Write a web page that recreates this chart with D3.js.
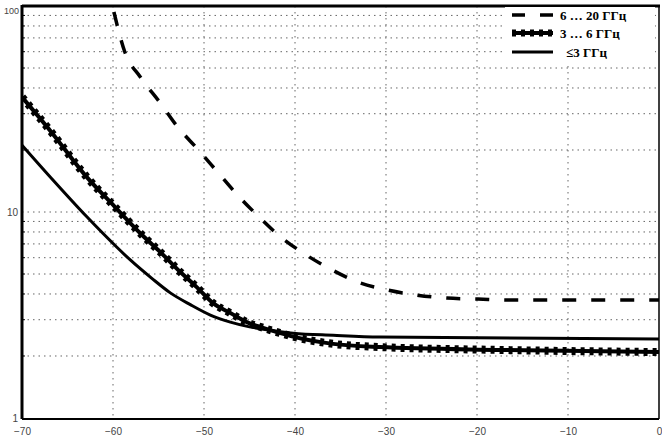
<!DOCTYPE html>
<html>
<head>
<meta charset="utf-8">
<script src="https://cdn.jsdelivr.net/npm/d3@7"></script>
<style>
html,body{margin:0;padding:0;background:#fff;}
svg{display:block;}
</style>
</head>
<body>
<svg id="chart" width="662" height="448"></svg>
<script>
// ---- data ----
const xTicks = [-70, -60, -50, -40, -30, -20, -10, 0];
const yTicks = [1, 10, 100];
const seriesNames = ["6 … 20 ГГц", "3 … 6 ГГц", "≤3 ГГц"];

const xHigh = [-59.9, -58.7, -57, -54.8, -52.9, -50.7, -48.6, -46.4, -44.1, -41.7, -39.1, -35.9, -33.1, -29.8, -26.6, -23.3, -19.9, -16.4, 0];
const vHigh = [93.5, 59.8, 45.2, 33.8, 25.9, 20.2, 15.8, 12.2, 9.6, 7.65, 6.32, 5.23, 4.57, 4.18, 3.95, 3.82, 3.78, 3.74, 3.74];

const xMid = [-70, -66.7, -62.9, -59.8, -56.8, -54.8, -52.6, -50.8, -49.0, -47.1, -45.3, -43.5, -41.7, -40.0, -35.8, -30.7, -17.5, 0];
const vMid = [36.1, 24.2, 14.8, 10.6, 7.73, 6.39, 5.11, 4.32, 3.61, 3.23, 2.92, 2.74, 2.59, 2.47, 2.29, 2.21, 2.14, 2.09];

const xLow = [-70, -66.6, -62.9, -59.6, -58.1, -55.7, -53.7, -51.5, -49.3, -47.1, -45.0, -42.8, -40.2, -35.8, -30.7, 0];
const vLow = [21.1, 14.3, 9.5, 6.76, 5.85, 4.75, 4.05, 3.55, 3.16, 2.92, 2.77, 2.67, 2.58, 2.52, 2.47, 2.42];

// ---- layout ----
const L = 22, R = 659, T = 6, B = 418;
const svg = d3.select("#chart");
const x = d3.scaleLinear().domain([-70, 0]).range([L, R]);
const y = d3.scaleLog().domain([1, 100]).range([B, T]);

svg.append("defs").append("clipPath").attr("id", "clip")
  .append("rect").attr("x", L).attr("y", T).attr("width", R - L).attr("height", B - T);

// minor log values for gridlines
const minorVals = [];
for (let d = 1; d < 100; d *= 10) for (let m = 2; m <= 9; m++) minorVals.push(d * m);

const grid = svg.append("g");
grid.selectAll("line.h").data(minorVals.concat([10])).join("line")
  .attr("x1", L).attr("x2", R)
  .attr("y1", d => y(d)).attr("y2", d => y(d))
  .attr("stroke", "#666").attr("stroke-width", 1).attr("stroke-dasharray", "1.5,4");
grid.selectAll("line.v").data(xTicks.slice(1, -1)).join("line")
  .attr("x1", d => x(d)).attr("x2", d => x(d))
  .attr("y1", T).attr("y2", B)
  .attr("stroke", "#666").attr("stroke-width", 1).attr("stroke-dasharray", "1.5,4.5");

// axes
const xAxis = d3.axisBottom(x).tickValues(xTicks).tickSize(0).tickFormat(d3.format("d"));
const gx = svg.append("g").attr("transform", `translate(0,${B + 1})`).call(xAxis);
gx.select(".domain").remove();
gx.selectAll("text").attr("dy", "1.25em").attr("font-family", "Liberation Sans, Arial, sans-serif")
  .attr("font-size", 10).attr("fill", "#444");

const yAxis = d3.axisLeft(y).tickValues(yTicks).tickSize(0).tickFormat(d3.format("d"));
const gy = svg.append("g").attr("transform", `translate(${L - 3},0)`).call(yAxis);
gy.select(".domain").remove();
gy.selectAll("text").attr("font-family", "Liberation Sans, Arial, sans-serif")
  .attr("font-size", d => d === 100 ? 9 : 10).attr("fill", "#444")
  .attr("x", d => d === 100 ? 0 : -1)
  .attr("dy", d => d === 100 ? "0.8em" : "0.32em");

// minor ticks inside the left axis
svg.append("g").selectAll("line").data(minorVals).join("line")
  .attr("x1", L).attr("x2", L + 3)
  .attr("y1", d => y(d)).attr("y2", d => y(d))
  .attr("stroke", "#000").attr("stroke-width", 1);

// frame
svg.append("line").attr("x1", L).attr("x2", L).attr("y1", T - 1).attr("y2", B + 1).attr("stroke", "#000").attr("stroke-width", 3);
svg.append("line").attr("x1", L).attr("x2", R + 1).attr("y1", T).attr("y2", T).attr("stroke", "#000").attr("stroke-width", 3);
svg.append("line").attr("x1", L).attr("x2", R).attr("y1", B + 1).attr("y2", B + 1).attr("stroke", "#000").attr("stroke-width", 2);
svg.append("line").attr("x1", R).attr("x2", R).attr("y1", T).attr("y2", B + 1).attr("stroke", "#000").attr("stroke-width", 1.5);

// curves
const line = d3.line().x(d => x(d[0])).y(d => y(d[1])).curve(d3.curveMonotoneX);
const zip = (a, b) => a.map((v, i) => [v, b[i]]);
const plot = svg.append("g").attr("clip-path", "url(#clip)");

plot.append("path").datum(zip(xLow, vLow)).attr("d", line)
  .attr("fill", "none").attr("stroke", "#000").attr("stroke-width", 3);

plot.append("path").datum(zip(xMid, vMid)).attr("d", line)
  .attr("fill", "none").attr("stroke", "#000").attr("stroke-width", 4);
plot.append("path").datum(zip(xMid, vMid)).attr("d", line)
  .attr("fill", "none").attr("stroke", "#000").attr("stroke-width", 8).attr("stroke-dasharray", "4,5");

plot.append("path").datum(zip(xHigh, vHigh)).attr("d", line)
  .attr("fill", "none").attr("stroke", "#000").attr("stroke-width", 3.5).attr("stroke-dasharray", "14,15");

// legend
const lg = svg.append("g");
lg.append("rect").attr("x", 505).attr("y", 7).attr("width", 150).attr("height", 57).attr("fill", "#fff");
const rows = [15, 33, 52];
lg.append("line").attr("x1", 512).attr("x2", 553).attr("y1", rows[0]).attr("y2", rows[0])
  .attr("stroke", "#000").attr("stroke-width", 3.5).attr("stroke-dasharray", "13,15");
lg.append("line").attr("x1", 512).attr("x2", 553).attr("y1", rows[1]).attr("y2", rows[1])
  .attr("stroke", "#000").attr("stroke-width", 4);
lg.append("line").attr("x1", 512).attr("x2", 553).attr("y1", rows[1]).attr("y2", rows[1])
  .attr("stroke", "#000").attr("stroke-width", 7).attr("stroke-dasharray", "4,5");
lg.append("line").attr("x1", 512).attr("x2", 553).attr("y1", rows[2]).attr("y2", rows[2])
  .attr("stroke", "#000").attr("stroke-width", 3);
lg.selectAll("text").data(seriesNames).join("text")
  .attr("x", (d, i) => i === 2 ? 566 : 560).attr("y", (d, i) => rows[i]).attr("dy", "0.35em")
  .attr("font-family", "Liberation Serif, Times New Roman, serif").attr("font-weight", "bold")
  .attr("font-size", 13).attr("fill", "#000").text(d => d);
</script>
</body>
</html>
